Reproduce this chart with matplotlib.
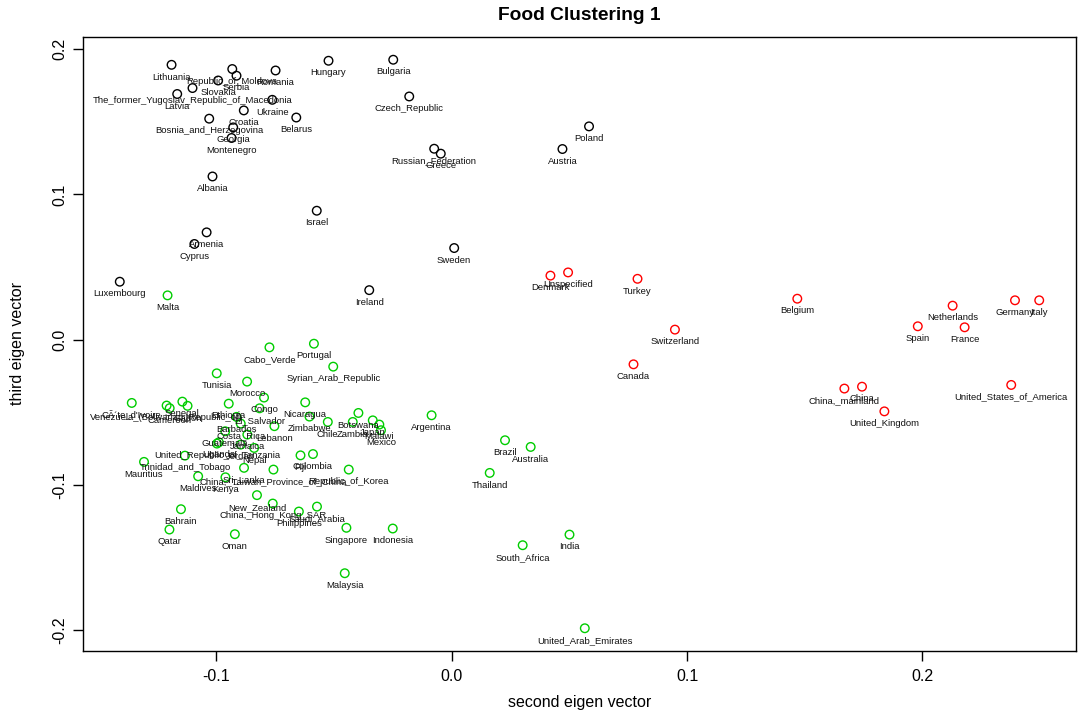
import numpy as np
import matplotlib
matplotlib.use('Agg')
import matplotlib.pyplot as plt

# eigen vector scores per country, three clusters
black_names = ['Lithuania', 'Republic_of_Moldova', 'Romania', 'Serbia', 'Slovakia',
               'The_former_Yugoslav_Republic_of_Macedonia', 'Latvia', 'Ukraine', 'Croatia',
               'Bosnia_and_Herzegovina', 'Belarus', 'Georgia', 'Montenegro', 'Hungary',
               'Bulgaria', 'Czech_Republic', 'Russian_Federation', 'Greece', 'Poland',
               'Austria', 'Albania', 'Israel', 'Armenia', 'Cyprus', 'Luxembourg', 'Sweden',
               'Ireland']
black_x = [-0.1191, -0.0933, -0.0749, -0.0915, -0.0993, -0.1102, -0.1167, -0.0763, -0.0884,
           -0.1031, -0.0661, -0.0929, -0.0936, -0.0524, -0.0249, -0.0181, -0.0075, -0.0047,
           0.0583, 0.0470, -0.1017, -0.0574, -0.1042, -0.1094, -0.1411, 0.0010, -0.0351]
black_y = [0.1893, 0.1864, 0.1854, 0.1818, 0.1785, 0.1733, 0.1692, 0.1652, 0.1579, 0.1522,
           0.1530, 0.1462, 0.1389, 0.1921, 0.1928, 0.1675, 0.1315, 0.1281, 0.1469, 0.1313,
           0.1124, 0.0888, 0.0739, 0.0659, 0.0399, 0.0631, 0.0341]

red_names = ['Denmark', 'Unspecified', 'Turkey', 'Switzerland', 'Canada', 'Belgium',
             'Netherlands', 'Spain', 'France', 'Germany', 'Italy', 'China,_mainland',
             'China', 'United_Kingdom', 'United_States_of_America']
red_x = [0.0419, 0.0494, 0.0789, 0.0948, 0.0772, 0.1468, 0.2128, 0.1980, 0.2179, 0.2393,
         0.2496, 0.1668, 0.1743, 0.1838, 0.2377]
red_y = [0.0441, 0.0463, 0.0419, 0.0069, -0.0170, 0.0282, 0.0234, 0.0092, 0.0085, 0.0271,
         0.0271, -0.0337, -0.0324, -0.0494, -0.0312]

green_names = ['Malta', 'Cabo_Verde', 'Portugal', 'Syrian_Arab_Republic', 'Tunisia', 'Morocco',
               "CÃ´te_d'Ivoire", 'Venezuela_(Bolivarian_Republic_of)', 'Cameroon', 'Senegal',
               'Gabon', 'Ethiopia', 'Congo', 'El_Salvador', 'Nicaragua', 'Barbados',
               'Costa_Rica', 'Lebanon', 'Zimbabwe', 'Chile', 'Botswana', 'Zambia', 'Japan',
               'Malawi', 'Mexico', 'Argentina', 'Guatemala', 'Jamaica', 'Uganda',
               'United_Republic_of_Tanzania', 'Jordan', 'Nepal', 'Trinidad_and_Tobago',
               'Mauritius', 'Maldives', 'Sri_Lanka', 'Kenya', 'China,_Taiwan_Province_of_China',
               'Republic_of_Korea', 'Fiji', 'Colombia', 'New_Zealand', 'China,_Hong_Kong_SAR',
               'Philippines', 'Saudi_Arabia', 'Bahrain', 'Qatar', 'Oman', 'Singapore',
               'Indonesia', 'Malaysia', 'Brazil', 'Australia', 'Thailand', 'India',
               'South_Africa', 'United_Arab_Emirates']
green_x = [-0.1208, -0.0775, -0.0586, -0.0504, -0.0999, -0.0870, -0.1360, -0.1212, -0.1199,
           -0.1145, -0.1123, -0.0948, -0.0798, -0.0817, -0.0623, -0.0915, -0.0897, -0.0754,
           -0.0605, -0.0527, -0.0397, -0.0421, -0.0336, -0.0308, -0.0301, -0.0086, -0.0963,
           -0.0869, -0.0990, -0.0998, -0.0897, -0.0840, -0.1134, -0.1308, -0.1078, -0.0883,
           -0.0962, -0.0758, -0.0438, -0.0643, -0.0590, -0.0828, -0.0761, -0.0650, -0.0573,
           -0.1151, -0.1200, -0.0922, -0.0448, -0.0251, -0.0455, 0.0226, 0.0335, 0.0161,
           0.0500, 0.0301, 0.0565]
green_y = [0.0305, -0.0053, -0.0028, -0.0186, -0.0232, -0.0289, -0.0436, -0.0454, -0.0472,
           -0.0427, -0.0456, -0.0441, -0.0399, -0.0473, -0.0432, -0.0532, -0.0578, -0.0596,
           -0.0530, -0.0567, -0.0505, -0.0567, -0.0556, -0.0585, -0.0624, -0.0521, -0.0631,
           -0.0654, -0.0707, -0.0716, -0.0723, -0.0746, -0.0799, -0.0842, -0.0941, -0.0883,
           -0.0948, -0.0895, -0.0895, -0.0797, -0.0788, -0.1071, -0.1129, -0.1184, -0.1150,
           -0.1168, -0.1308, -0.1340, -0.1296, -0.1301, -0.1609, -0.0693, -0.0739, -0.0918,
           -0.1343, -0.1416, -0.1988]

plt.rcParams['font.family'] = ['Liberation Sans', 'DejaVu Sans']

fig = plt.figure(figsize=(10.84, 7.13), dpi=100)
ax = fig.add_axes([83 / 1084, 62 / 713, 993 / 1084, 614 / 713])

groups = [(black_names, black_x, black_y, 'black'),
          (red_names, red_x, red_y, '#FF0000'),
          (green_names, green_x, green_y, '#00CD00')]
for names, xs, ys, col in groups:
    ax.scatter(xs, ys, s=38, facecolors='none', edgecolors=col, linewidths=1.0, zorder=2)
    for n, x, y in zip(names, xs, ys):
        ax.annotate(n, (x, y), xytext=(0, -8.8), textcoords='offset points',
                    ha='center', va='center', fontsize=6.8, color='#111111', zorder=3)

# R-style limits: data range padded by 4%
allx = black_x + red_x + green_x
ally = black_y + red_y + green_y
px = (max(allx) - min(allx)) * 0.04
py = (max(ally) - min(ally)) * 0.04
ax.set_xlim(min(allx) - px, max(allx) + px)
ax.set_ylim(min(ally) - py, max(ally) + py)

ax.set_xticks([-0.1, 0.0, 0.1, 0.2])
ax.set_xticklabels(['-0.1', '0.0', '0.1', '0.2'])
ax.set_yticks([-0.2, -0.1, 0.0, 0.1, 0.2])
ax.set_yticklabels(['-0.2', '-0.1', '0.0', '0.1', '0.2'], rotation=90, va='center')
ax.tick_params(direction='out', length=7, width=1, labelsize=11.5, pad=6)
ax.tick_params(axis='y', pad=4)
for sp in ax.spines.values():
    sp.set_linewidth(1)

ax.set_xlabel('second eigen vector', fontsize=11.5)
ax.xaxis.set_label_coords(0.5, -0.072)
ax.set_ylabel('third eigen vector', fontsize=11.5)
ax.yaxis.set_label_coords(-0.058, 0.5)
fig.text(0.5345, 1 - 15 / 713, 'Food Clustering 1', ha='center', va='center',
         fontsize=13.8, fontweight='bold')

fig.savefig('out.png', dpi=100)
